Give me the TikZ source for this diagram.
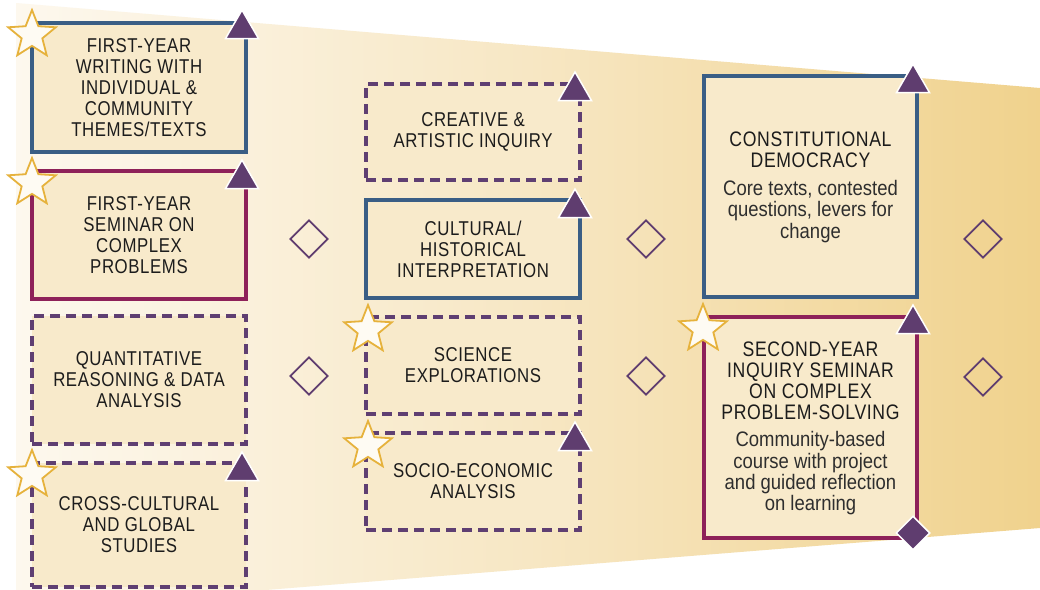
\documentclass[tikz,border=0pt]{standalone}
\usepackage{fontspec}
\usetikzlibrary{shapes.geometric}
\newfontfamily\ttlfont[FakeStretch=0.84,LetterSpace=3]{Liberation Sans}
\newfontfamily\dscfont[FakeStretch=0.88]{Liberation Sans}
\definecolor{bluebd}{HTML}{3A5E85}
\definecolor{maroonbd}{HTML}{8E2159}
\definecolor{purplebd}{HTML}{5F3F72}
\definecolor{trifill}{HTML}{5F3D6F}
\definecolor{boxfill}{HTML}{F8EACB}
\definecolor{stargold}{HTML}{E6B23C}
\definecolor{starfill}{HTML}{FEFBF3}
\definecolor{bgL}{HTML}{FDF8EE}
\definecolor{bgM}{HTML}{F7E7C4}
\definecolor{bgR}{HTML}{F0D28D}
\definecolor{ink}{HTML}{1C1C1C}
\definecolor{inkd}{HTML}{2E2E2E}
\tikzset{
  cbox/.style={rectangle, fill=boxfill, line width=3.5pt, inner sep=0pt, align=center,
    text=ink, font=\ttlfont\fontsize{20}{21}\selectfont},
  bluebox/.style={cbox, draw=bluebd},
  maroonbox/.style={cbox, draw=maroonbd},
  dashbox/.style={cbox, draw=purplebd, dash pattern=on 10pt off 6pt},
  ttlthree/.style={align=center, inner sep=0pt, text=ink, font=\ttlfont\fontsize{21}{21}\selectfont},
  dsctext/.style={align=center, inner sep=0pt, text=inkd, font=\dscfont\fontsize{21}{21.3}\selectfont},
  startag/.style={star, star points=5, star point ratio=2.3, minimum size=50pt, inner sep=0pt,
    draw=stargold, fill=starfill, line width=1.8pt},
  tritag/.style={regular polygon, regular polygon sides=3, minimum size=38pt, inner sep=0pt,
    fill=trifill, draw=white, line width=1.5pt},
  opendia/.style={diamond, minimum width=38pt, minimum height=38pt, inner sep=0pt,
    draw=trifill, line width=1.8pt},
  soliddia/.style={diamond, minimum width=34pt, minimum height=34pt, inner sep=0pt,
    fill=trifill, draw=white, line width=1.5pt},
}
\begin{document}
\begin{tikzpicture}[x=1pt,y=-1pt]
\useasboundingbox (0,0) rectangle (1040,589);
\fill[white] (0,0) rectangle (1040,589);
\begin{scope}
  \clip (0,0) rectangle (1040,589);
  \shade[left color=bgL, right color=bgR, middle color=bgM]
    (16,3) -- (1040,88) -- (1040,528) -- (16,610) -- cycle;
\end{scope}

% column 1
\node[bluebox, minimum width=214pt, minimum height=129pt] (b1) at (139,87.5)
  {FIRST-YEAR\\WRITING WITH\\INDIVIDUAL \&\\COMMUNITY\\THEMES/TEXTS};
\node[maroonbox, minimum width=214pt, minimum height=128pt] (b2) at (139,235)
  {FIRST-YEAR\\SEMINAR ON\\COMPLEX\\PROBLEMS};
\node[dashbox, minimum width=214pt, minimum height=128pt] (b3) at (139,380)
  {QUANTITATIVE\\REASONING \& DATA\\ANALYSIS};
\node[dashbox, minimum width=214pt, minimum height=124pt] (b4) at (139,525)
  {CROSS-CULTURAL\\AND GLOBAL\\STUDIES};

% column 2
\node[dashbox, minimum width=214pt, minimum height=96pt] (b5) at (473,132)
  {CREATIVE \&\\ARTISTIC INQUIRY};
\node[bluebox, minimum width=214pt, minimum height=98pt] (b6) at (473,249)
  {CULTURAL/\\HISTORICAL\\INTERPRETATION};
\node[dashbox, minimum width=214pt, minimum height=97pt] (b7) at (473,365.5)
  {SCIENCE\\EXPLORATIONS};
\node[dashbox, minimum width=214pt, minimum height=97pt] (b8) at (473,481.5)
  {SOCIO-ECONOMIC\\ANALYSIS};

% column 3
\node[bluebox, minimum width=213pt, minimum height=221pt] (b9) at (810.5,186.5) {};
\node[maroonbox, minimum width=213pt, minimum height=221pt] (b10) at (810.5,427.5) {};
\node[ttlthree] (t9) at (810.5,149.5) {CONSTITUTIONAL\\DEMOCRACY};
\node[dsctext] (d9) at (810.5,211.5) {Core texts, contested\\questions, levers for\\change};
\node[ttlthree] (t10) at (810.5,380.5) {SECOND-YEAR\\INQUIRY SEMINAR\\ON COMPLEX\\PROBLEM-SOLVING};
\node[dsctext] (d10) at (810.5,473.5) {Community-based\\course with project\\and guided reflection\\on learning};

% stars
\node[startag] (s1) at (32,35) {};
\node[startag] (s2) at (32,183) {};
\node[startag] (s4) at (32,475) {};
\node[startag] (s7) at (368,330) {};
\node[startag] (s8) at (368,446) {};
\node[startag] (s10) at (703,329) {};

% triangles
\node[tritag] (r1) at (242,29) {};
\node[tritag] (r2) at (242,179) {};
\node[tritag] (r4) at (242,471) {};
\node[tritag] (r5) at (575,91) {};
\node[tritag] (r6) at (575,208) {};
\node[tritag] (r8) at (575,441) {};
\node[tritag] (r9) at (913,83) {};
\node[tritag] (r10) at (913,324) {};

% diamonds
\node[opendia] (o1) at (309,239) {};
\node[opendia] (o2) at (309,376) {};
\node[opendia] (o3) at (646,239) {};
\node[opendia] (o4) at (646,376) {};
\node[opendia] (o5) at (983,239) {};
\node[opendia] (o6) at (983,377) {};
\node[soliddia] (sd) at (913,533) {};
\end{tikzpicture}
\end{document}
